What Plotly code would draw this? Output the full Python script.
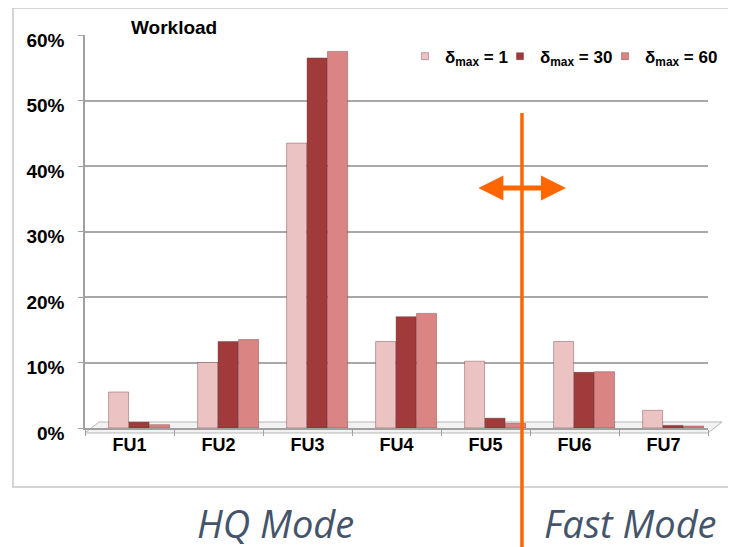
import plotly.graph_objects as go

categories = ["FU1", "FU2", "FU3", "FU4", "FU5", "FU6", "FU7"]
delta1 = [5.5, 10.0, 43.5, 13.2, 10.2, 13.2, 2.7]
delta30 = [0.9, 13.2, 56.5, 17.0, 1.5, 8.5, 0.4]
delta60 = [0.5, 13.5, 57.5, 17.5, 0.7, 8.6, 0.3]
series_names = ["δ<sub>max</sub> = 1", "δ<sub>max</sub> = 30", "δ<sub>max</sub> = 60"]
series_colors = ["#ecc3c3", "#a13b3b", "#db8484"]
tick_vals = [0, 10, 20, 30, 40, 50, 60]
tick_text = ["0%", "10%", "20%", "30%", "40%", "50%", "60%"]

fig = go.Figure()
offsets = [-0.235, -0.005, 0.225]
for vals, name, col, off in zip([delta1, delta30, delta60], series_names, series_colors, offsets):
    fig.add_trace(go.Bar(
        x=categories, y=vals, name=name, showlegend=False,
        marker=dict(color=col, line=dict(color="rgba(90,30,30,0.35)", width=1)),
        width=0.225, offset=off,
    ))
# legend-only entries with small square keys, one legend box per series
legend_ids = ["legend", "legend2", "legend3"]
for name, col, lid in zip(series_names, series_colors, legend_ids):
    fig.add_trace(go.Scatter(
        x=[None], y=[None], mode="markers", name=name, legend=lid,
        marker=dict(symbol="square", size=7, color=col, line=dict(color="rgba(90,30,30,0.35)", width=1)),
    ))

# page body has an 8px margin, so the figure is placed 8px right/down
W, H = 736, 547
L, R, T, B = 77, 36, 27, 127

legend_font = dict(size=17, family="Liberation Sans, Arial", color="black", weight="bold")
legend_common = dict(orientation="h", xanchor="left", y=0.945, yanchor="middle",
                     font=legend_font, bgcolor="rgba(0,0,0,0)", itemwidth=30)

fig.update_layout(
    width=W, height=H,
    margin=dict(l=L, r=R, t=T, b=B),
    paper_bgcolor="white", plot_bgcolor="white",
    barmode="group",
    font=dict(family="Liberation Sans, Arial", size=19, color="black"),
    showlegend=True,
    legend=dict(x=0.5136, **legend_common),
    legend2=dict(x=0.6661, **legend_common),
    legend3=dict(x=0.8347, **legend_common),
    xaxis=dict(
        type="category", showgrid=False, showline=True, linecolor="#a0a0a0", linewidth=1.5,
        ticks="outside", tickson="boundaries", ticklen=6, tickcolor="#a0a0a0",
        tickfont=dict(size=18, family="Liberation Sans, Arial", weight="bold"),
        fixedrange=True,
    ),
    yaxis=dict(
        range=[0, 60], tickvals=tick_vals, ticktext=tick_text,
        showgrid=True, gridcolor="#a8a8a8", gridwidth=1.5,
        showline=True, linecolor="#a0a0a0", linewidth=1.5,
        ticks="outside", ticklen=5, tickcolor="#a0a0a0",
        tickfont=dict(size=19, family="Liberation Sans, Arial", weight="bold"),
        ticklabelshift=5, ticklabelstandoff=10,
        zeroline=False,
    ),
)

# floor band
fig.add_shape(type="path", xref="paper", yref="paper",
              path="M 0,-0.0127 L 1,-0.0127 L 1.0225,0.0153 L 0.0225,0.0153 Z",
              fillcolor="#f2f2f2", line=dict(color="#b8b8b8", width=1), layer="below")
# outer frame
fig.add_shape(type="rect", xref="paper", yref="paper",
              x0=-0.1156, x1=1.08, y0=-0.150, y1=1.0687,
              line=dict(color="#c8c8c8", width=1.5), fillcolor="rgba(0,0,0,0)")
# orange divider
fig.add_shape(type="line", xref="paper", yref="paper",
              x0=0.7014, x1=0.7014, y0=0.8015, y1=-0.32,
              line=dict(color="#ff6600", width=3.5))
# double arrow
fig.add_annotation(xref="x domain", yref="y domain", axref="x domain", ayref="y domain",
                   x=0.772, y=0.6107, ax=0.629, ay=0.6107, text="",
                   showarrow=True, arrowhead=2, startarrowhead=2, arrowside="end+start",
                   arrowsize=1, startarrowsize=1, arrowwidth=5, arrowcolor="#ff6600")

fig.add_annotation(xref="paper", yref="paper", x=0.143, y=1.018, text="<b>Workload</b>",
                   showarrow=False, bgcolor="white", borderpad=3,
                   xanchor="center", yanchor="middle",
                   font=dict(size=19, family="Liberation Sans, Arial", color="black"))

fig.add_annotation(xref="paper", yref="paper", x=0.305, y=-0.243, text="<i>HQ Mode</i>",
                   showarrow=False, xanchor="center", yanchor="middle",
                   font=dict(size=38, family="Open Sans", color="#44546a"))
fig.add_annotation(xref="paper", yref="paper", x=0.7335, y=-0.243, text="<i>Fast Mode</i>",
                   showarrow=False, xanchor="left", yanchor="middle",
                   font=dict(size=38, family="Open Sans", color="#44546a"))

fig.write_html("out.html")
